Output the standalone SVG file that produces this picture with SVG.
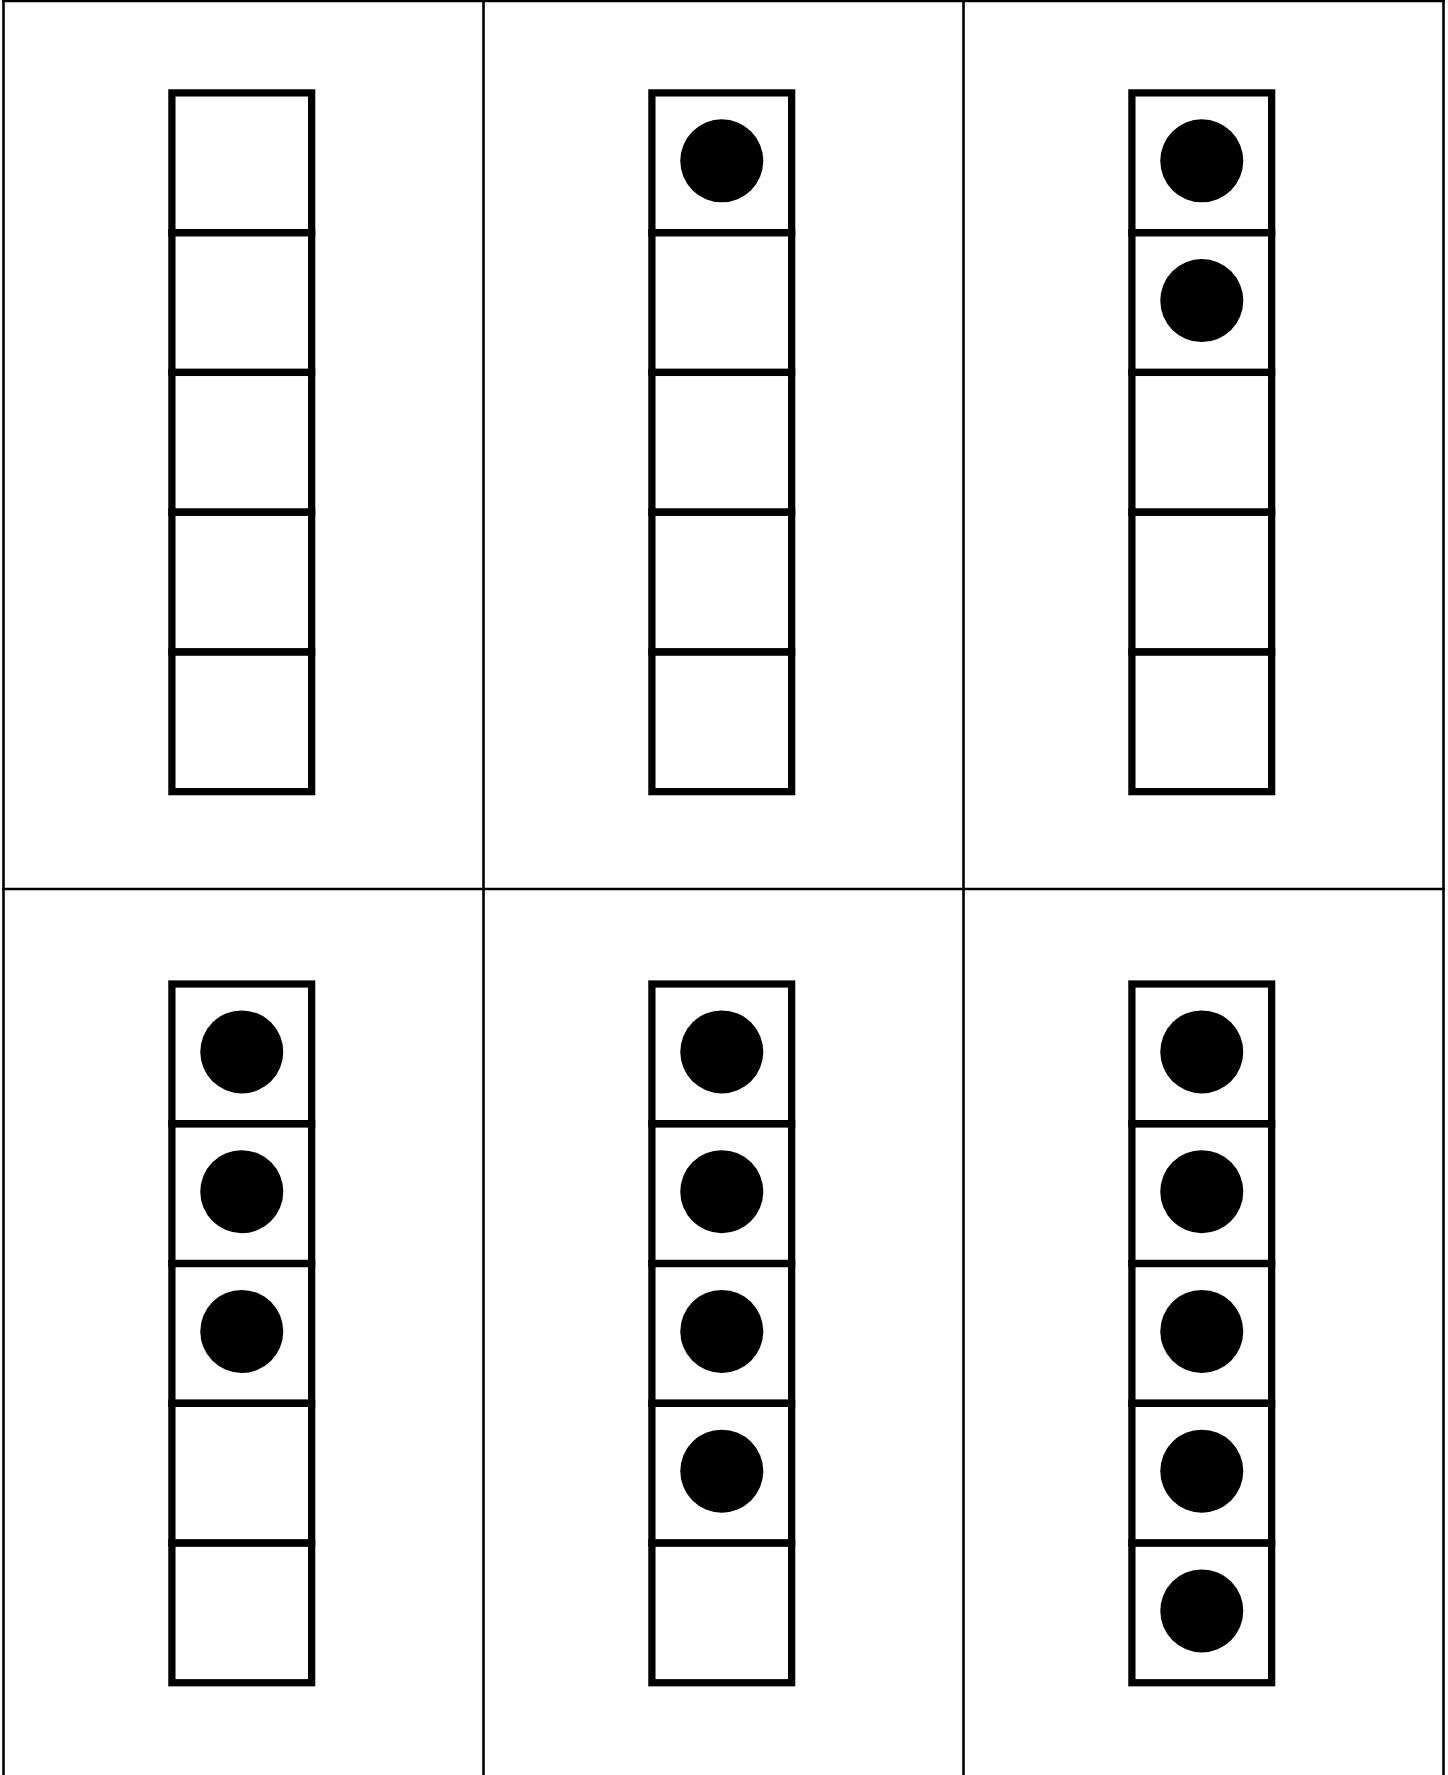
<svg xmlns="http://www.w3.org/2000/svg" width="1448" height="1775" viewBox="0 0 1448 1775">
  <style>
    .grid { stroke: #000000; stroke-width: 2.6; fill: none; }
    .box { fill: none; stroke: #000000; stroke-width: 7.25; }
    .dot { fill: #000000; }
  </style>
  <defs>
    <g id="frame">
      <rect class="box" x="0" y="0" width="139.75" height="139.75"/>
      <rect class="box" x="0" y="139.75" width="139.75" height="139.75"/>
      <rect class="box" x="0" y="279.5" width="139.75" height="139.75"/>
      <rect class="box" x="0" y="419.25" width="139.75" height="139.75"/>
      <rect class="box" x="0" y="559" width="139.75" height="139.75"/>
    </g>
  </defs>
  <rect width="1448" height="1775" fill="#ffffff"/>
  <g id="grid-lines">
    <line class="grid" x1="2.2" y1="1" x2="1444.8" y2="1"/>
    <line class="grid" x1="2.2" y1="889" x2="1444.8" y2="889"/>
    <line class="grid" x1="3.5" y1="0" x2="3.5" y2="1775"/>
    <line class="grid" x1="483.5" y1="0" x2="483.5" y2="1775"/>
    <line class="grid" x1="963.5" y1="0" x2="963.5" y2="1775"/>
    <line class="grid" x1="1443.5" y1="0" x2="1443.5" y2="1775"/>
  </g>
  <g id="frame-0" transform="translate(171.9 92.9)">
    <use href="#frame"/>
  </g>
  <g id="frame-1" transform="translate(651.9 92.9)">
    <use href="#frame"/>
    <circle class="dot" cx="69.875" cy="67.9" r="41.5"/>
  </g>
  <g id="frame-2" transform="translate(1131.9 92.9)">
    <use href="#frame"/>
    <circle class="dot" cx="69.875" cy="67.9" r="41.5"/>
    <circle class="dot" cx="69.875" cy="207.65" r="41.5"/>
  </g>
  <g id="frame-3" transform="translate(171.9 984)">
    <use href="#frame"/>
    <circle class="dot" cx="69.875" cy="67.9" r="41.5"/>
    <circle class="dot" cx="69.875" cy="207.65" r="41.5"/>
    <circle class="dot" cx="69.875" cy="347.4" r="41.5"/>
  </g>
  <g id="frame-4" transform="translate(651.9 984)">
    <use href="#frame"/>
    <circle class="dot" cx="69.875" cy="67.9" r="41.5"/>
    <circle class="dot" cx="69.875" cy="207.65" r="41.5"/>
    <circle class="dot" cx="69.875" cy="347.4" r="41.5"/>
    <circle class="dot" cx="69.875" cy="487.15" r="41.5"/>
  </g>
  <g id="frame-5" transform="translate(1131.9 984)">
    <use href="#frame"/>
    <circle class="dot" cx="69.875" cy="67.9" r="41.5"/>
    <circle class="dot" cx="69.875" cy="207.65" r="41.5"/>
    <circle class="dot" cx="69.875" cy="347.4" r="41.5"/>
    <circle class="dot" cx="69.875" cy="487.15" r="41.5"/>
    <circle class="dot" cx="69.875" cy="626.9" r="41.5"/>
  </g>
</svg>
